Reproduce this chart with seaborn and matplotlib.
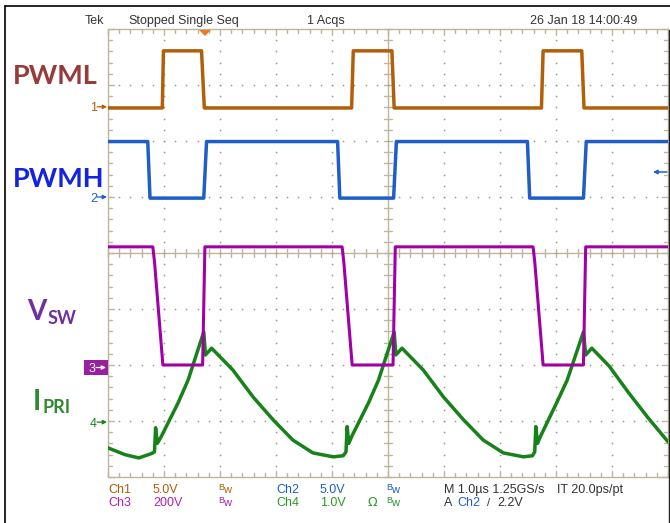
import matplotlib
matplotlib.use("Agg")
import matplotlib.pyplot as plt
import seaborn as sns
import numpy as np
from matplotlib.transforms import Affine2D
from matplotlib.lines import Line2D
from matplotlib.patches import Polygon, Rectangle

# ---------------- data (time in µs, vertical in screen divisions) ----------------
pwml_t = [-5.0, -4.03, -4.01, -3.33, -3.28, -0.65, -0.62, 0.07, 0.11, 2.74, 2.77, 3.46, 3.50, 5.0]
pwml_v = [2.59, 2.59, 3.61, 3.61, 2.59, 2.59, 3.61, 3.61, 2.59, 2.59, 3.61, 3.61, 2.59, 2.59]

pwmh_t = [-5.0, -4.29, -4.25, -3.29, -3.24, -0.90, -0.86, 0.10, 0.15, 2.49, 2.53, 3.49, 3.54, 5.0]
pwmh_v = [1.99, 1.99, 0.98, 0.98, 1.99, 1.99, 0.98, 0.98, 1.99, 1.99, 0.98, 0.98, 1.99, 1.99]

vsw_t = [-5.0, -4.20, -4.17, -4.02, -3.31, -3.27, -0.82, -0.79, -0.64, 0.09, 0.13,
         2.59, 2.62, 2.77, 3.49, 3.53, 5.0]
vsw_v = [0.11, 0.11, -0.15, -2.0, -2.0, 0.11, 0.11, -0.15, -2.0, -2.0, 0.11,
         0.11, -0.15, -2.0, -2.0, 0.11, 0.11]

ipri_t = [-5.0, -4.7, -4.45, -4.22, -4.17, -4.15, -4.12, -4.05, -3.75, -3.57, -3.29, -3.26, -3.15,
          -2.77, -2.41, -2.05, -1.70, -1.34, -0.98, -0.80, -0.75, -0.73, -0.70, -0.65, -0.35, -0.17,
          0.11, 0.14, 0.25, 0.63, 0.99, 1.35, 1.70, 2.06, 2.42, 2.58, 2.62, 2.64, 2.67, 2.72, 3.00,
          3.20, 3.49, 3.53, 3.64, 3.95, 4.30, 4.65, 5.0]
ipri_v = [-3.48, -3.60, -3.66, -3.58, -3.55, -3.12, -3.40, -3.28, -2.68, -2.27, -1.41, -1.82, -1.70,
          -2.09, -2.57, -2.98, -3.34, -3.57, -3.64, -3.62, -3.55, -3.10, -3.40, -3.28, -2.68, -2.27,
          -1.41, -1.82, -1.70, -2.09, -2.57, -2.98, -3.34, -3.57, -3.64, -3.62, -3.55, -3.10, -3.40,
          -3.28, -2.70, -2.27, -1.41, -1.82, -1.70, -2.02, -2.50, -2.95, -3.37]

ref_levels = {"1": 2.61, "2": 1.0, "3": -2.04, "4": -3.02}

# ---------------- style ----------------
sns.set_theme(style="white")
plt.rcParams["font.family"] = ["Liberation Sans Narrow", "Liberation Sans", "DejaVu Sans"]

C1 = "#B35E08"
C2 = "#1F5EC8"
C3 = "#A000A6"
C4 = "#17821A"
GRID = "#BDB59C"
DOT = "#A49E8A"
TXT = "#333333"

W, H = 670, 523
fig = plt.figure(figsize=(W / 100, H / 100), dpi=100)
fig.patch.set_facecolor("white")
pxT = Affine2D().scale(1 / W, -1 / H).translate(0, 1) + fig.transFigure

ax = fig.add_axes([108 / W, (H - 477) / H, 560 / W, 448 / H])
ax.set_xlim(-5, 5)
ax.set_ylim(-4, 4)
ax.axis("off")

# ---------------- graticule ----------------
u = 1 / 56.0  # one pixel in data units
ax.plot([-5, 5, 5, -5, -5], [-4, -4, 4, 4, -4], color=GRID, lw=1.0, zorder=1, clip_on=False)
ax.plot([-5, 5], [0, 0], color=GRID, lw=1.0, zorder=1)
ax.plot([0, 0], [-4, 4], color=GRID, lw=1.0, zorder=1)

minor_x = np.round(np.arange(-5, 5.001, 0.2), 3)
minor_y = np.round(np.arange(-4, 4.001, 0.2), 3)
segs_x, segs_y = [], []
for x in minor_x:
    segs_x += [x, x, np.nan]; segs_y += [-4 * u, 4 * u, np.nan]
    L = 6 * u if abs(x - round(x)) < 1e-6 else 4 * u
    segs_x += [x, x, np.nan]; segs_y += [4, 4 - L, np.nan]
    segs_x += [x, x, np.nan]; segs_y += [-4, -4 + L, np.nan]
for y in minor_y:
    segs_x += [-4 * u, 4 * u, np.nan]; segs_y += [y, y, np.nan]
    L = 6 * u if abs(y - round(y)) < 1e-6 else 4 * u
    segs_x += [-5, -5 + L, np.nan]; segs_y += [y, y, np.nan]
    segs_x += [5, 5 - L, np.nan]; segs_y += [y, y, np.nan]
ax.plot(segs_x, segs_y, color=GRID, lw=1.0, zorder=1, clip_on=False)

dx, dy = [], []
for X in range(-4, 5):
    if X == 0:
        continue
    for y in minor_y[1:-1]:
        dx.append(X); dy.append(y)
for Y in range(-3, 4):
    if Y == 0:
        continue
    for x in minor_x[1:-1]:
        dx.append(x); dy.append(Y)
ax.scatter(dx, dy, s=1.6, color=DOT, linewidths=0, zorder=1)

# ---------------- traces ----------------
sns.lineplot(x=ipri_t, y=ipri_v, ax=ax, color=C4, linewidth=2.5, sort=False, estimator=None, zorder=3)
sns.lineplot(x=vsw_t, y=vsw_v, ax=ax, color=C3, linewidth=2.2, sort=False, estimator=None, zorder=4)
sns.lineplot(x=pwmh_t, y=pwmh_v, ax=ax, color=C2, linewidth=2.5, sort=False, estimator=None, zorder=4)
sns.lineplot(x=pwml_t, y=pwml_v, ax=ax, color=C1, linewidth=2.5, sort=False, estimator=None, zorder=4)

# ---------------- helpers ----------------
def ptxt(x, y, s, **kw):
    kw.setdefault("ha", "left")
    kw.setdefault("va", "baseline")
    fig.text(x, y, s, transform=pxT, **kw)

def parrow(x0, y0, x1, y1, color, lw=0.9):
    fig.add_artist(matplotlib.patches.FancyArrowPatch(
        (x0, y0), (x1, y1), transform=pxT, arrowstyle="-|>", mutation_scale=6,
        color=color, lw=lw, shrinkA=0, shrinkB=0))

def yref(level):
    return 253 - level * 56

ptxt(90, yref(ref_levels["1"]) + 4.5, "1", color=C1, fontsize=9)
parrow(97, yref(ref_levels["1"]), 107, yref(ref_levels["1"]), C1)
ptxt(90, yref(ref_levels["2"]) + 4.5, "2", color=C2, fontsize=9)
parrow(97, yref(ref_levels["2"]), 107, yref(ref_levels["2"]), C2)
fig.add_artist(Rectangle((84, 360), 24, 15, transform=pxT, color="#9A1FA0", lw=0))
ptxt(88.5, 372, "3", color="white", fontsize=9)
parrow(96, 367.5, 106, 367.5, "white")
ptxt(90, yref(ref_levels["4"]) + 4.5, "4", color=C4, fontsize=9)
parrow(97, yref(ref_levels["4"]), 107, yref(ref_levels["4"]), C4)

# trigger level arrow on right
parrow(667, 172, 653, 172, C2, lw=1.1)
# trigger position marker
fig.add_artist(Polygon([(199, 30), (211, 30), (205, 36)], closed=True, transform=pxT,
                       color="#F07828", lw=0))

# ---------------- header ----------------
hs = 9
ptxt(85, 24, "Tek", color=TXT, fontsize=hs)
ptxt(128, 24, "Stopped", color=TXT, fontsize=hs)
ptxt(178, 24, "Single Seq", color=TXT, fontsize=hs)
ptxt(307, 24, "1 Acqs", color=TXT, fontsize=hs)
ptxt(530, 24, "26 Jan 18 14:00:49", color=TXT, fontsize=hs)

# ---------------- footer ----------------
fs = 9
r1, r2 = 493, 506
def bw(x, y, c):
    ptxt(x, y - 3, "B", color=c, fontsize=6.5)
    ptxt(x + 5, y, "w", color=c, fontsize=8)

ptxt(108, r1, "Ch1", color=C1, fontsize=fs)
ptxt(153, r1, "5.0V", color=C1, fontsize=fs)
bw(218, r1, C1)
ptxt(276, r1, "Ch2", color=C2, fontsize=fs)
ptxt(320, r1, "5.0V", color=C2, fontsize=fs)
bw(386, r1, C2)
ptxt(444, r1, "M 1.0µs 1.25GS/s", color=TXT, fontsize=fs)
ptxt(557, r1, "IT 20.0ps/pt", color=TXT, fontsize=fs)

ptxt(108, r2, "Ch3", color="#B020B0", fontsize=fs)
ptxt(153, r2, "200V", color="#B020B0", fontsize=fs)
bw(218, r2, "#B020B0")
ptxt(276, r2, "Ch4", color="#2A9A2A", fontsize=fs)
ptxt(320, r2, "1.0V", color="#2A9A2A", fontsize=fs)
ptxt(368, r2, "Ω", color="#2A9A2A", fontsize=fs, family=["DejaVu Sans"])
bw(386, r2, "#2A9A2A")
ptxt(444, r2, "A", color=TXT, fontsize=fs)
ptxt(457, r2, "Ch2", color=C2, fontsize=fs)
ptxt(487, r2, "/", color=TXT, fontsize=fs - 1)
ptxt(497, r2, "2.2V", color=TXT, fontsize=fs)

# ---------------- big labels ----------------
big = ["Lato", "DejaVu Sans"]
ptxt(13, 84, "PWML", color="#993A3A", fontsize=19.5, fontweight="bold", family=big)
ptxt(13, 187, "PWMH", color="#1423E0", fontsize=19.5, fontweight="bold", family=big)
ptxt(27, 320, "V", color="#7030A0", fontsize=20, fontweight="bold", family=big)
ptxt(48, 324, "SW", color="#7030A0", fontsize=13, fontweight="bold", family=big)
ptxt(33, 410, "I", color="#2E8B2E", fontsize=20, fontweight="bold", family=big)
ptxt(42, 413, "PRI", color="#2E8B2E", fontsize=13, fontweight="bold", family=big)

# ---------------- outer frame ----------------
fig.add_artist(Line2D([5, 5], [6, 523], transform=pxT, color="black", lw=1.2))
fig.add_artist(Line2D([5, 670], [6, 6], transform=pxT, color="black", lw=1.2))
fig.add_artist(Line2D([669, 669], [30, 523], transform=pxT, color="#222222", lw=1.0))

fig.savefig("out.png", dpi=100, facecolor="white")
